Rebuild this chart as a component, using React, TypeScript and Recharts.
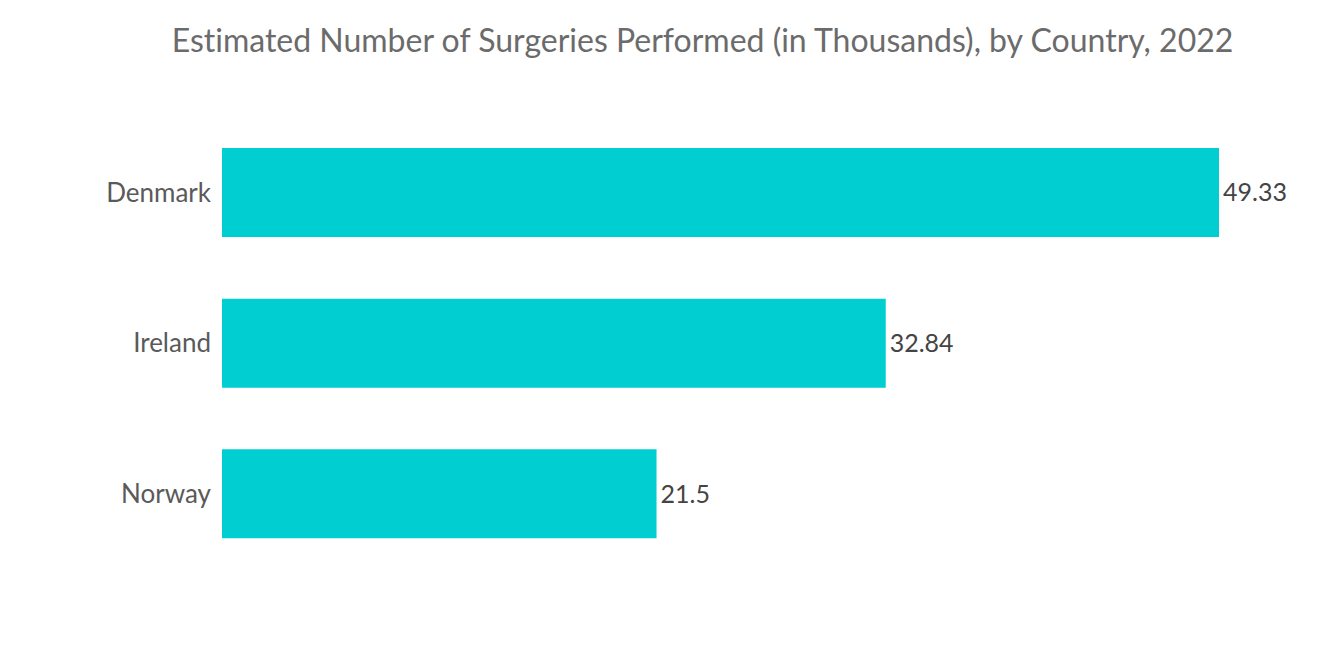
import { BarChart, Bar, XAxis, YAxis, LabelList } from "recharts";

const countries = ["Denmark", "Ireland", "Norway"];
const surgeries = [49.33, 32.84, 21.5];

const data = countries.map((c, i) => ({ country: c, value: surgeries[i] }));

export default function App() {
	return (
		<div
			style={{
				position: "relative",
				width: 1320,
				height: 665,
				margin: -8,
				background: "#fff",
				fontFamily: "Lato, 'Open Sans', sans-serif",
				fontVariantLigatures: "none",
			}}
		>
			<div
				style={{
					position: "absolute",
					top: 20,
					left: 0,
					width: 1405,
					textAlign: "center",
					fontSize: 32,
					color: "#6b6b6b",
				}}
			>
				Estimated Number of Surgeries Performed (in Thousands), by Country, 2022
			</div>
			<BarChart
				layout="vertical"
				width={1320}
				height={665}
				data={data}
				margin={{ top: 117, right: 101, bottom: 96, left: 0 }}
				barCategoryGap={31}
			>
				<XAxis type="number" domain={[0, "dataMax"]} hide />
				<YAxis
					type="category"
					dataKey="country"
					width={222}
					axisLine={false}
					tickLine={false}
					tickSize={0}
					tickMargin={11}
					tick={{ fill: "#5a5a5a", fontSize: 26 }}
				/>
				<Bar dataKey="value" fill="#00ced1" isAnimationActive={false}>
					<LabelList
						dataKey="value"
						position="right"
						offset={4}
						fill="#444"
						fontSize={25}
					/>
				</Bar>
			</BarChart>
		</div>
	);
}
